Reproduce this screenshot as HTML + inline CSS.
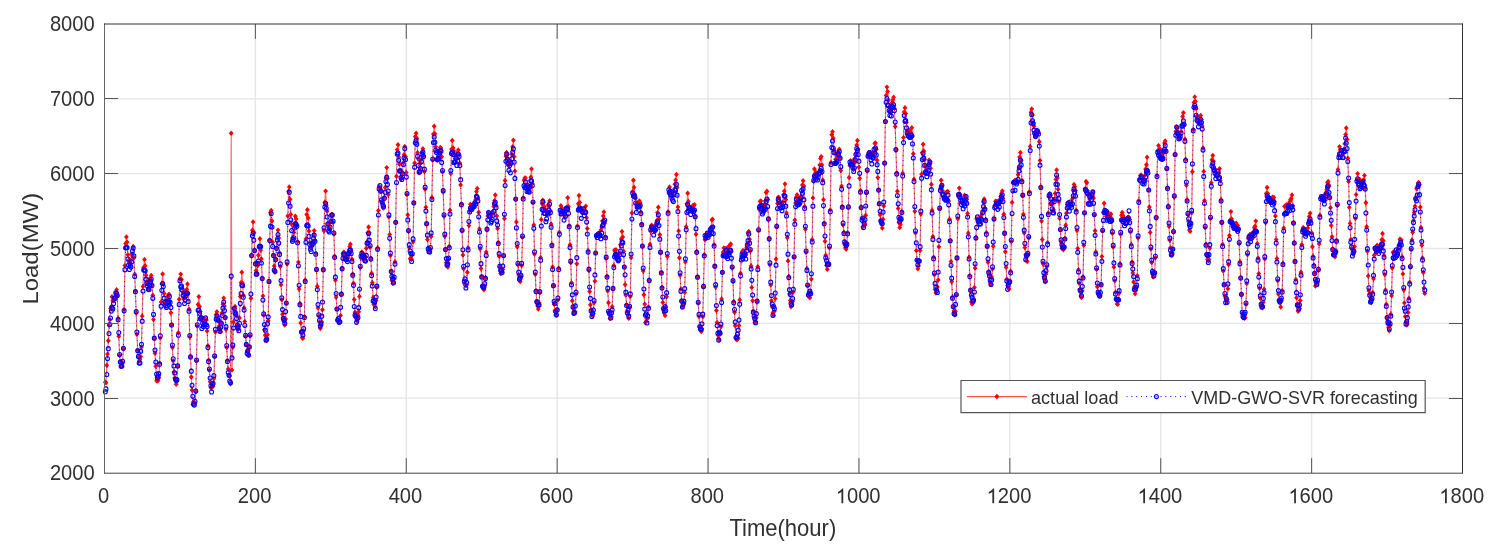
<!DOCTYPE html>
<html><head><meta charset="utf-8"><style>
html,body{margin:0;padding:0;background:#fff;overflow:hidden;}
svg{display:block;}
text{font-family:"Liberation Sans", sans-serif;fill:#303030;}
svg{will-change:transform;}
</style></head><body>
<svg width="1500" height="549" viewBox="0 0 1500 549">
<defs>
<marker id="md" markerUnits="userSpaceOnUse" markerWidth="6" markerHeight="6" refX="3" refY="3" overflow="visible"><path d="M3 0.3L5.4 3L3 5.7L0.6 3Z" fill="#f00"/></marker>
<marker id="mc" markerUnits="userSpaceOnUse" markerWidth="8" markerHeight="8" refX="4" refY="4" overflow="visible"><ellipse cx="4" cy="4" rx="1.95" ry="2.05" fill="none" stroke="#00f" stroke-width="1.1"/></marker>
<clipPath id="cp"><rect x="104.5" y="24.0" width="1358.0" height="449.0"/></clipPath>
</defs>
<rect width="1500" height="549" fill="#fff"/>
<path d="M255.39 24.0V473.0M406.28 24.0V473.0M557.17 24.0V473.0M708.06 24.0V473.0M858.94 24.0V473.0M1009.83 24.0V473.0M1160.72 24.0V473.0M1311.61 24.0V473.0M104.5 398.17H1462.5M104.5 323.33H1462.5M104.5 248.50H1462.5M104.5 173.67H1462.5M104.5 98.83H1462.5" stroke="#e6e6e6" stroke-width="1.4" fill="none"/>
<g>
<polyline points="105.3,382.2 106.0,382.8 106.8,365.2 107.5,354.1 108.3,340.8 109.0,325.4 109.8,319.8 110.5,308.4 111.3,306.6 112.0,296.8 112.8,300.6 113.6,300.7 114.3,298.5 115.1,297.2 115.8,294.0 116.6,289.7 117.3,296.1 118.1,318.4 118.8,336.2 119.6,355.4 120.3,362.0 121.1,363.1 121.9,366.0 122.6,362.9 123.4,348.5 124.1,309.5 124.9,265.4 125.6,243.6 126.4,236.9 127.1,242.1 127.9,254.8 128.6,260.4 129.4,262.7 130.2,263.3 130.9,260.5 131.7,254.1 132.4,255.8 133.2,246.5 133.9,257.8 134.7,274.2 135.4,291.1 136.2,313.0 136.9,334.3 137.7,350.4 138.4,357.3 139.2,361.0 140.0,359.4 140.7,356.7 141.5,347.0 142.2,316.1 143.0,286.4 143.7,267.5 144.5,259.5 145.2,265.8 146.0,275.2 146.7,282.0 147.5,284.0 148.3,289.3 149.0,281.3 149.8,278.6 150.5,279.8 151.3,275.4 152.0,284.4 152.8,295.2 153.5,319.5 154.3,338.4 155.0,353.2 155.8,366.2 156.6,380.7 157.3,380.9 158.1,380.4 158.8,378.1 159.6,363.0 160.3,338.1 161.1,302.1 161.8,283.9 162.6,274.0 163.3,283.9 164.1,293.5 164.9,303.0 165.6,301.2 166.4,303.2 167.1,300.6 167.9,296.2 168.6,294.4 169.4,294.8 170.1,301.1 170.9,312.8 171.6,324.7 172.4,347.6 173.2,361.0 173.9,372.0 174.7,378.0 175.4,380.1 176.2,384.3 176.9,381.1 177.7,366.4 178.4,332.8 179.2,299.3 179.9,278.7 180.7,274.1 181.5,279.4 182.2,288.3 183.0,292.1 183.7,298.9 184.5,297.4 185.2,295.8 186.0,291.6 186.7,289.5 187.5,284.0 188.2,293.8 189.0,309.2 189.8,336.9 190.5,356.8 191.3,377.0 192.0,390.1 192.8,404.5 193.5,401.7 194.3,403.0 195.0,403.4 195.8,391.7 196.5,361.1 197.3,326.2 198.1,304.5 198.8,296.8 199.6,306.6 200.3,311.6 201.1,317.8 201.8,318.2 202.6,320.5 203.3,318.4 204.1,321.7 204.8,318.9 205.6,319.6 206.4,320.0 207.1,331.0 207.9,345.7 208.6,360.1 209.4,370.3 210.1,381.8 210.9,387.8 211.6,387.4 212.4,384.4 213.1,386.4 213.9,378.6 214.6,356.9 215.4,332.1 216.2,314.5 216.9,311.8 217.7,316.6 218.4,320.8 219.2,326.1 219.9,329.3 220.7,331.9 221.4,323.3 222.2,312.8 222.9,304.4 223.7,298.1 224.5,306.1 225.2,317.3 226.0,329.4 226.7,347.5 227.5,360.4 228.2,369.0 229.0,375.6 229.7,376.0 230.5,383.9 231.2,133.3 232.0,370.1 232.8,347.2 233.5,322.0 234.3,308.1 235.0,306.4 235.8,312.2 236.5,315.8 237.3,325.7 238.0,329.6 238.8,326.8 239.5,318.0 240.3,296.6 241.1,282.6 241.8,272.2 242.6,283.2 243.3,295.3 244.1,307.7 244.8,321.4 245.6,336.5 246.3,344.4 247.1,351.0 247.8,350.2 248.6,355.2 249.4,346.9 250.1,336.0 250.9,298.3 251.6,255.6 252.4,230.3 253.1,221.9 253.9,232.4 254.6,250.3 255.4,263.3 256.1,270.6 256.9,273.3 257.7,265.6 258.4,255.2 259.2,247.5 259.9,238.7 260.7,250.1 261.4,258.9 262.2,278.2 262.9,295.9 263.7,315.1 264.4,329.6 265.2,335.3 266.0,340.1 266.7,340.3 267.5,334.7 268.2,320.8 269.0,281.9 269.7,240.2 270.5,212.5 271.2,210.5 272.0,221.0 272.7,242.3 273.5,255.0 274.2,265.9 275.0,272.3 275.8,259.6 276.5,247.6 277.3,238.0 278.0,230.1 278.8,238.1 279.5,252.8 280.3,266.6 281.0,284.7 281.8,299.8 282.5,314.3 283.3,318.1 284.1,320.7 284.8,325.1 285.6,318.9 286.3,303.2 287.1,264.1 287.8,215.9 288.6,191.2 289.3,186.9 290.1,199.2 290.8,214.5 291.6,224.1 292.4,238.0 293.1,238.0 293.9,232.5 294.6,226.7 295.4,216.2 296.1,218.8 296.9,224.5 297.6,241.4 298.4,262.1 299.1,289.1 299.9,303.8 300.7,322.9 301.4,332.1 302.2,337.6 302.9,338.4 303.7,331.0 304.4,316.7 305.2,280.3 305.9,238.9 306.7,214.6 307.4,209.8 308.2,218.0 309.0,231.0 309.7,242.4 310.5,247.6 311.2,247.1 312.0,245.4 312.7,241.4 313.5,234.8 314.2,230.6 315.0,240.8 315.7,253.1 316.5,270.1 317.3,286.3 318.0,307.9 318.8,316.1 319.5,321.9 320.3,328.6 321.0,325.2 321.8,321.9 322.5,309.8 323.3,269.8 324.0,230.7 324.8,202.3 325.6,191.1 326.3,205.2 327.1,211.3 327.8,223.6 328.6,227.3 329.3,229.3 330.1,229.7 330.8,220.9 331.6,214.4 332.3,214.7 333.1,222.5 333.9,234.1 334.6,256.2 335.4,280.3 336.1,297.3 336.9,309.0 337.6,320.3 338.4,321.2 339.1,321.1 339.9,321.1 340.6,315.4 341.4,294.3 342.1,268.4 342.9,253.5 343.7,252.3 344.4,252.8 345.2,256.2 345.9,256.3 346.7,258.7 347.4,258.2 348.2,257.2 348.9,253.8 349.7,246.6 350.4,244.3 351.2,250.9 352.0,259.3 352.7,274.2 353.5,283.3 354.2,299.6 355.0,312.3 355.7,315.5 356.5,318.6 357.2,321.3 358.0,315.3 358.7,311.7 359.5,296.4 360.3,267.6 361.0,258.1 361.8,252.0 362.5,256.7 363.3,258.6 364.0,254.4 364.8,259.9 365.5,256.7 366.3,248.2 367.0,241.9 367.8,232.8 368.6,227.0 369.3,232.7 370.1,247.3 370.8,258.3 371.6,273.3 372.3,282.8 373.1,297.6 373.8,304.6 374.6,303.9 375.3,306.7 376.1,300.5 376.9,287.2 377.6,248.0 378.4,210.5 379.1,186.4 379.9,187.5 380.6,189.1 381.4,191.6 382.1,202.9 382.9,207.6 383.6,208.1 384.4,197.4 385.2,187.4 385.9,178.1 386.7,167.6 387.4,178.6 388.2,194.6 388.9,217.1 389.7,234.5 390.4,255.6 391.2,271.0 391.9,280.5 392.7,283.4 393.5,282.4 394.2,279.1 395.0,261.7 395.7,222.2 396.5,176.3 397.2,149.8 398.0,144.8 398.7,157.0 399.5,164.0 400.2,171.8 401.0,178.8 401.8,177.9 402.5,172.9 403.3,162.7 404.0,154.8 404.8,146.5 405.5,156.4 406.3,172.6 407.0,194.6 407.8,214.9 408.5,231.0 409.3,247.6 410.1,258.7 410.8,258.2 411.6,259.3 412.3,255.1 413.1,241.7 413.8,203.2 414.6,162.9 415.3,136.6 416.1,133.2 416.8,138.3 417.6,152.7 418.3,158.9 419.1,172.9 419.9,168.0 420.6,163.0 421.4,159.1 422.1,151.9 422.9,148.8 423.6,156.0 424.4,171.6 425.1,189.2 425.9,207.3 426.6,224.1 427.4,239.6 428.2,247.7 428.9,250.6 429.7,250.1 430.4,249.1 431.2,236.4 431.9,197.5 432.7,160.0 433.4,134.1 434.2,126.3 434.9,133.7 435.7,146.7 436.5,150.7 437.2,160.6 438.0,156.6 438.7,158.2 439.5,154.2 440.2,147.5 441.0,148.1 441.7,156.8 442.5,171.9 443.2,191.7 444.0,216.3 444.8,236.3 445.5,249.8 446.3,262.5 447.0,265.7 447.8,267.0 448.5,259.1 449.3,246.3 450.0,210.2 450.8,173.5 451.5,149.2 452.3,140.5 453.1,147.9 453.8,151.1 454.6,154.3 455.3,159.0 456.1,158.0 456.8,157.3 457.6,152.6 458.3,149.9 459.1,154.5 459.8,163.1 460.6,184.9 461.4,204.1 462.1,230.7 462.9,255.0 463.6,268.7 464.4,283.6 465.1,285.1 465.9,285.7 466.6,285.1 467.4,272.3 468.1,247.7 468.9,225.6 469.7,210.7 470.4,204.2 471.2,205.7 471.9,208.4 472.7,207.2 473.4,207.2 474.2,206.9 474.9,202.4 475.7,199.5 476.4,191.6 477.2,188.5 477.9,198.5 478.7,212.2 479.5,228.9 480.2,248.9 481.0,268.5 481.7,277.0 482.5,286.0 483.2,286.0 484.0,289.8 484.7,285.9 485.5,277.8 486.2,252.1 487.0,229.4 487.8,215.9 488.5,212.2 489.3,214.3 490.0,214.1 490.8,215.3 491.5,215.4 492.3,211.8 493.0,212.5 493.8,206.4 494.5,200.6 495.3,195.0 496.1,205.4 496.8,216.1 497.6,228.5 498.3,242.4 499.1,256.2 499.8,266.9 500.6,273.6 501.3,273.3 502.1,272.3 502.8,269.5 503.6,256.1 504.4,218.6 505.1,180.5 505.9,156.4 506.6,152.5 507.4,154.2 508.1,158.9 508.9,165.2 509.6,163.5 510.4,162.2 511.1,161.7 511.9,154.5 512.7,146.8 513.4,140.2 514.2,156.6 514.9,171.1 515.7,198.9 516.4,222.0 517.2,246.7 517.9,264.8 518.7,274.9 519.4,277.0 520.2,281.6 521.0,276.6 521.7,265.6 522.5,237.2 523.2,197.8 524.0,180.2 524.7,178.1 525.5,178.0 526.2,185.2 527.0,186.7 527.7,185.5 528.5,186.7 529.3,189.7 530.0,187.5 530.8,177.2 531.5,168.9 532.3,183.4 533.0,202.6 533.8,225.0 534.5,254.1 535.3,274.4 536.0,290.7 536.8,301.7 537.6,306.0 538.3,309.1 539.1,302.8 539.8,292.7 540.6,257.4 541.3,219.6 542.1,203.7 542.8,200.3 543.6,202.3 544.3,206.7 545.1,209.2 545.9,211.6 546.6,215.1 547.4,212.6 548.1,205.1 548.9,206.3 549.6,200.8 550.4,210.9 551.1,224.1 551.9,244.6 552.6,267.0 553.4,286.1 554.1,304.3 554.9,310.8 555.7,314.9 556.4,315.4 557.2,309.3 557.9,300.1 558.7,268.2 559.4,232.3 560.2,211.2 560.9,205.7 561.7,210.2 562.4,208.8 563.2,212.7 564.0,215.2 564.7,217.1 565.5,211.9 566.2,207.8 567.0,207.2 567.7,197.7 568.5,206.8 569.2,225.7 570.0,244.8 570.7,262.5 571.5,282.8 572.3,300.8 573.0,307.7 573.8,311.2 574.5,312.3 575.3,312.0 576.0,294.1 576.8,263.7 577.5,225.9 578.3,203.7 579.0,195.5 579.8,202.4 580.6,208.5 581.3,208.8 582.1,209.1 582.8,212.5 583.6,208.7 584.3,209.8 585.1,210.4 585.8,206.1 586.6,217.7 587.3,228.5 588.1,250.7 588.9,270.2 589.6,291.5 590.4,304.7 591.1,309.6 591.9,314.6 592.6,315.9 593.4,313.5 594.1,302.7 594.9,281.1 595.6,253.1 596.4,235.8 597.2,234.2 597.9,234.2 598.7,233.3 599.4,233.7 600.2,234.1 600.9,229.9 601.7,227.1 602.4,220.9 603.2,215.9 603.9,211.9 604.7,223.2 605.5,236.8 606.2,258.5 607.0,276.1 607.7,290.9 608.5,302.7 609.2,312.0 610.0,318.6 610.7,317.1 611.5,316.9 612.2,306.7 613.0,288.9 613.8,265.6 614.5,250.3 615.3,251.4 616.0,249.7 616.8,255.1 617.5,257.5 618.3,255.4 619.0,254.0 619.8,253.1 620.5,244.4 621.3,238.9 622.0,231.5 622.8,237.0 623.6,251.3 624.3,266.9 625.1,284.6 625.8,295.0 626.6,304.8 627.3,311.6 628.1,314.7 628.8,318.4 629.6,307.5 630.3,296.6 631.1,257.6 631.9,213.0 632.6,191.5 633.4,180.3 634.1,187.4 634.9,194.7 635.6,198.3 636.4,203.6 637.1,208.3 637.9,204.5 638.6,202.1 639.4,201.0 640.2,203.1 640.9,212.0 641.7,224.0 642.4,246.3 643.2,271.1 643.9,294.8 644.7,304.1 645.4,322.5 646.2,321.5 646.9,318.1 647.7,318.4 648.5,307.1 649.2,280.8 650.0,244.3 650.7,231.3 651.5,225.3 652.2,226.1 653.0,229.3 653.7,226.6 654.5,231.6 655.2,229.8 656.0,225.1 656.8,220.8 657.5,212.6 658.3,207.2 659.0,218.9 659.8,234.7 660.5,252.8 661.3,272.5 662.0,287.3 662.8,302.4 663.5,309.1 664.3,313.2 665.1,315.6 665.8,307.3 666.6,296.8 667.3,256.6 668.1,211.8 668.8,192.9 669.6,186.9 670.3,191.3 671.1,191.7 671.8,196.0 672.6,195.4 673.4,195.5 674.1,191.3 674.9,184.2 675.6,180.1 676.4,174.5 677.1,187.5 677.9,207.1 678.6,230.9 679.4,257.7 680.1,275.4 680.9,288.9 681.6,301.0 682.4,306.8 683.2,303.9 683.9,303.6 684.7,292.4 685.4,261.9 686.2,226.8 686.9,203.7 687.7,193.3 688.4,201.4 689.2,206.8 689.9,207.8 690.7,208.2 691.5,211.1 692.2,207.2 693.0,205.4 693.7,205.5 694.5,204.7 695.2,216.7 696.0,234.2 696.7,251.5 697.5,277.0 698.2,303.2 699.0,316.5 699.8,326.8 700.5,329.7 701.3,331.6 702.0,329.0 702.8,316.8 703.5,287.1 704.3,254.8 705.0,239.8 705.8,238.6 706.5,234.7 707.3,236.6 708.1,233.4 708.8,232.7 709.6,233.2 710.3,231.9 711.1,227.5 711.8,219.9 712.6,219.2 713.3,226.7 714.1,244.6 714.8,266.3 715.6,287.0 716.4,310.5 717.1,322.4 717.9,335.0 718.6,338.3 719.4,340.0 720.1,333.7 720.9,326.8 721.6,298.9 722.4,272.5 723.1,252.3 723.9,247.9 724.7,251.1 725.4,248.7 726.2,251.0 726.9,248.2 727.7,251.9 728.4,253.7 729.2,246.0 729.9,245.4 730.7,244.0 731.4,251.8 732.2,267.7 733.0,281.6 733.7,301.5 734.5,312.2 735.2,325.8 736.0,337.4 736.7,339.9 737.5,339.1 738.2,338.2 739.0,325.5 739.7,299.9 740.5,273.3 741.3,257.1 742.0,252.3 742.8,250.8 743.5,250.9 744.3,253.9 745.0,252.5 745.8,254.8 746.5,247.9 747.3,243.7 748.0,232.7 748.8,231.4 749.6,239.2 750.3,251.0 751.1,266.0 751.8,287.4 752.6,300.7 753.3,311.1 754.1,317.9 754.8,322.7 755.6,321.8 756.3,317.7 757.1,301.3 757.8,266.7 758.6,230.4 759.4,209.5 760.1,201.4 760.9,201.0 761.6,205.3 762.4,206.5 763.1,210.7 763.9,212.0 764.6,204.5 765.4,200.7 766.1,192.6 766.9,191.3 767.7,199.6 768.4,219.4 769.2,238.4 769.9,264.8 770.7,285.1 771.4,300.7 772.2,306.8 772.9,312.8 773.7,315.4 774.4,311.3 775.2,298.6 776.0,259.1 776.7,227.0 777.5,203.6 778.2,197.2 779.0,197.6 779.7,202.3 780.5,202.8 781.2,204.4 782.0,203.7 782.7,202.3 783.5,194.8 784.3,191.1 785.0,183.9 785.8,199.5 786.5,213.1 787.3,237.8 788.0,260.9 788.8,276.5 789.5,293.8 790.3,300.5 791.0,306.8 791.8,302.9 792.6,301.6 793.3,291.9 794.1,257.1 794.8,220.1 795.6,203.1 796.3,197.2 797.1,194.8 797.8,197.9 798.6,200.3 799.3,201.9 800.1,199.2 800.9,199.4 801.6,196.8 802.4,185.0 803.1,180.7 803.9,186.1 804.6,206.5 805.4,229.2 806.1,252.2 806.9,268.4 807.6,285.8 808.4,294.3 809.2,296.9 809.9,297.7 810.7,292.7 811.4,279.1 812.2,239.6 812.9,197.9 813.7,181.1 814.4,169.0 815.2,174.0 815.9,172.5 816.7,176.8 817.5,175.2 818.2,174.9 819.0,171.5 819.7,164.9 820.5,158.4 821.2,156.6 822.0,165.0 822.7,180.0 823.5,199.7 824.2,223.1 825.0,241.3 825.7,255.2 826.5,265.5 827.3,269.2 828.0,264.9 828.8,263.3 829.5,247.9 830.3,209.9 831.0,162.5 831.8,134.8 832.5,131.8 833.3,138.2 834.0,150.3 834.8,153.0 835.6,159.4 836.3,163.0 837.1,156.4 837.8,154.2 838.6,150.7 839.3,149.3 840.1,157.8 840.8,170.5 841.6,186.1 842.3,206.8 843.1,225.1 843.9,232.3 844.6,244.3 845.4,247.9 846.1,249.2 846.9,243.1 847.6,232.8 848.4,207.8 849.1,177.5 849.9,165.6 850.6,160.6 851.4,162.0 852.2,162.8 852.9,163.6 853.7,169.5 854.4,159.3 855.2,162.3 855.9,153.5 856.7,145.1 857.4,140.5 858.2,149.1 858.9,167.3 859.7,178.3 860.5,190.8 861.2,207.5 862.0,218.3 862.7,227.0 863.5,222.8 864.2,225.0 865.0,224.7 865.7,215.2 866.5,193.2 867.2,171.0 868.0,155.8 868.8,152.4 869.5,152.6 870.3,152.5 871.0,156.0 871.8,157.7 872.5,155.8 873.3,155.2 874.0,152.8 874.8,143.4 875.5,142.9 876.3,149.2 877.1,160.2 877.8,177.6 878.6,189.9 879.3,203.5 880.1,214.8 880.8,220.0 881.6,224.6 882.3,228.1 883.1,219.2 883.8,206.0 884.6,163.3 885.4,121.1 886.1,95.4 886.9,87.1 887.6,91.6 888.4,100.2 889.1,107.1 889.9,110.6 890.6,112.0 891.4,108.5 892.1,102.6 892.9,99.7 893.6,97.2 894.4,108.4 895.2,126.5 895.9,149.7 896.7,172.9 897.4,191.3 898.2,208.4 898.9,222.6 899.7,227.6 900.4,224.5 901.2,220.6 901.9,211.6 902.7,173.2 903.5,137.6 904.2,112.1 905.0,107.7 905.7,113.4 906.5,122.4 907.2,130.5 908.0,132.9 908.7,134.1 909.5,130.4 910.2,132.6 911.0,132.4 911.8,127.8 912.5,136.1 913.3,153.7 914.0,179.2 914.8,211.3 915.5,233.0 916.3,250.6 917.0,260.4 917.8,268.7 918.5,266.0 919.3,260.9 920.1,250.5 920.8,214.1 921.6,174.2 922.3,152.6 923.1,144.3 923.8,150.9 924.6,159.8 925.3,165.2 926.1,170.1 926.8,167.3 927.6,168.3 928.4,165.5 929.1,160.1 929.9,161.5 930.6,168.2 931.4,184.5 932.1,210.2 932.9,236.4 933.6,257.2 934.4,274.7 935.1,289.5 935.9,293.1 936.7,289.5 937.4,287.0 938.2,279.9 938.9,246.7 939.7,209.1 940.4,189.1 941.2,180.3 941.9,186.1 942.7,191.0 943.4,197.5 944.2,196.5 945.0,194.1 945.7,198.1 946.5,192.5 947.2,191.6 948.0,191.6 948.7,201.1 949.5,219.2 950.2,240.6 951.0,261.6 951.7,281.7 952.5,297.1 953.2,307.2 954.0,311.1 954.8,314.8 955.5,311.3 956.3,295.3 957.0,258.1 957.8,218.7 958.5,196.7 959.3,188.1 960.0,194.8 960.8,197.2 961.5,202.6 962.3,203.0 963.1,202.0 963.8,200.4 964.6,195.2 965.3,197.2 966.1,198.1 966.8,199.6 967.6,213.4 968.3,233.2 969.1,257.2 969.8,275.4 970.6,290.5 971.4,301.9 972.1,303.9 972.9,303.0 973.6,301.6 974.4,287.5 975.1,268.1 975.9,237.6 976.6,218.7 977.4,219.0 978.1,220.4 978.9,221.4 979.7,220.8 980.4,217.1 981.2,218.6 981.9,214.5 982.7,210.9 983.4,201.8 984.2,198.9 984.9,208.2 985.7,219.5 986.4,232.6 987.2,246.5 988.0,262.2 988.7,271.5 989.5,274.9 990.2,282.7 991.0,284.3 991.7,276.9 992.5,269.1 993.2,246.2 994.0,219.2 994.7,205.4 995.5,201.2 996.3,202.9 997.0,201.1 997.8,205.0 998.5,204.5 999.3,202.5 1000.0,201.6 1000.8,196.5 1001.5,193.5 1002.3,191.0 1003.0,198.3 1003.8,214.3 1004.6,233.5 1005.3,251.8 1006.1,267.4 1006.8,279.3 1007.6,285.8 1008.3,287.3 1009.1,288.9 1009.8,282.3 1010.6,271.3 1011.3,241.6 1012.1,202.4 1012.9,183.1 1013.6,182.5 1014.4,181.3 1015.1,180.1 1015.9,182.0 1016.6,180.8 1017.4,181.1 1018.1,174.7 1018.9,168.1 1019.6,157.1 1020.4,152.5 1021.2,160.2 1021.9,180.5 1022.7,195.4 1023.4,214.2 1024.2,232.9 1024.9,247.6 1025.7,254.7 1026.4,260.5 1027.2,261.5 1027.9,254.7 1028.7,238.0 1029.4,191.7 1030.2,146.4 1031.0,112.3 1031.7,108.9 1032.5,115.1 1033.2,122.7 1034.0,126.3 1034.7,133.5 1035.5,136.8 1036.2,131.4 1037.0,131.4 1037.7,132.6 1038.5,132.2 1039.3,141.8 1040.0,160.4 1040.8,186.8 1041.5,221.0 1042.3,239.6 1043.0,263.8 1043.8,276.4 1044.5,279.2 1045.3,281.7 1046.0,274.0 1046.8,266.5 1047.6,242.4 1048.3,213.0 1049.1,196.5 1049.8,193.7 1050.6,195.3 1051.3,203.0 1052.1,203.9 1052.8,210.6 1053.6,209.9 1054.3,199.7 1055.1,193.4 1055.9,179.4 1056.6,170.0 1057.4,178.0 1058.1,189.3 1058.9,201.8 1059.6,218.2 1060.4,229.9 1061.1,241.7 1061.9,248.4 1062.6,244.8 1063.4,249.7 1064.2,247.4 1064.9,238.4 1065.7,225.3 1066.4,213.2 1067.2,204.7 1067.9,202.4 1068.7,204.5 1069.4,202.5 1070.2,204.1 1070.9,204.6 1071.7,202.9 1072.5,198.7 1073.2,190.5 1074.0,184.4 1074.7,186.5 1075.5,190.6 1076.2,210.2 1077.0,230.6 1077.7,248.5 1078.5,269.7 1079.2,283.3 1080.0,289.4 1080.8,296.1 1081.5,297.6 1082.3,290.9 1083.0,277.1 1083.8,245.4 1084.5,213.0 1085.3,188.6 1086.0,181.4 1086.8,182.8 1087.5,190.8 1088.3,194.5 1089.1,196.3 1089.8,199.3 1090.6,196.2 1091.3,193.9 1092.1,194.6 1092.8,191.9 1093.6,198.0 1094.3,215.1 1095.1,230.8 1095.8,252.0 1096.6,269.4 1097.3,286.7 1098.1,293.4 1098.9,294.2 1099.6,296.4 1100.4,296.0 1101.1,284.6 1101.9,256.6 1102.6,231.1 1103.4,212.5 1104.1,203.3 1104.9,211.0 1105.6,213.7 1106.4,216.2 1107.2,216.1 1107.9,212.1 1108.7,215.0 1109.4,216.6 1110.2,215.9 1110.9,214.0 1111.7,218.7 1112.4,233.4 1113.2,247.0 1113.9,267.1 1114.7,280.7 1115.5,292.2 1116.2,299.1 1117.0,303.9 1117.7,304.3 1118.5,299.5 1119.2,293.1 1120.0,263.9 1120.7,234.2 1121.5,215.2 1122.2,212.4 1123.0,215.4 1123.8,217.6 1124.5,220.4 1125.3,220.3 1126.0,219.1 1126.8,218.4 1127.5,219.5 1128.3,216.9 1129.0,219.7 1129.8,219.4 1130.5,232.0 1131.3,244.4 1132.1,262.0 1132.8,273.1 1133.6,282.0 1134.3,287.1 1135.1,293.8 1135.8,290.4 1136.6,287.6 1137.3,275.8 1138.1,238.1 1138.8,200.6 1139.6,178.7 1140.4,175.6 1141.1,175.0 1141.9,177.0 1142.6,179.1 1143.4,181.7 1144.1,180.5 1144.9,175.4 1145.6,169.0 1146.4,164.7 1147.1,157.2 1147.9,170.4 1148.7,189.8 1149.4,207.0 1150.2,232.4 1150.9,249.0 1151.7,262.5 1152.4,274.0 1153.2,277.1 1153.9,273.4 1154.7,272.3 1155.4,257.7 1156.2,217.2 1157.0,175.3 1157.7,150.7 1158.5,145.6 1159.2,152.9 1160.0,148.9 1160.7,156.7 1161.5,158.7 1162.2,155.6 1163.0,153.6 1163.7,151.8 1164.5,143.0 1165.2,141.0 1166.0,150.4 1166.8,168.8 1167.5,187.5 1168.3,207.1 1169.0,226.2 1169.8,240.3 1170.5,247.8 1171.3,253.0 1172.0,255.3 1172.8,249.5 1173.5,231.9 1174.3,196.8 1175.1,154.4 1175.8,131.5 1176.6,126.9 1177.3,128.4 1178.1,132.1 1178.8,135.2 1179.6,138.2 1180.3,138.0 1181.1,131.4 1181.8,124.6 1182.6,116.4 1183.4,112.8 1184.1,124.8 1184.9,139.1 1185.6,159.2 1186.4,185.2 1187.1,199.7 1187.9,214.6 1188.6,221.4 1189.4,230.0 1190.1,231.4 1190.9,222.4 1191.7,212.8 1192.4,171.8 1193.2,129.5 1193.9,102.4 1194.7,96.9 1195.4,101.5 1196.2,108.6 1196.9,116.2 1197.7,120.5 1198.4,122.5 1199.2,118.0 1200.0,118.0 1200.7,115.5 1201.5,119.6 1202.2,125.9 1203.0,147.9 1203.7,171.4 1204.5,200.6 1205.2,227.7 1206.0,244.3 1206.7,253.9 1207.5,259.6 1208.3,260.9 1209.0,259.6 1209.8,248.1 1210.5,218.5 1211.3,182.7 1212.0,159.8 1212.8,155.5 1213.5,161.2 1214.3,168.8 1215.0,169.3 1215.8,172.8 1216.6,176.2 1217.3,175.7 1218.1,172.7 1218.8,173.5 1219.6,168.6 1220.3,180.4 1221.1,199.7 1221.8,222.2 1222.6,244.3 1223.3,271.1 1224.1,284.9 1224.9,295.9 1225.6,298.0 1226.4,301.0 1227.1,299.4 1227.9,288.6 1228.6,264.5 1229.4,235.4 1230.1,220.2 1230.9,211.6 1231.6,219.0 1232.4,221.7 1233.1,225.7 1233.9,225.6 1234.7,225.9 1235.4,225.1 1236.2,223.1 1236.9,225.2 1237.7,225.6 1238.4,228.4 1239.2,243.7 1239.9,261.8 1240.7,277.5 1241.4,294.5 1242.2,313.4 1243.0,316.8 1243.7,317.6 1244.5,318.4 1245.2,317.6 1246.0,304.4 1246.7,283.6 1247.5,254.8 1248.2,238.5 1249.0,235.9 1249.7,234.6 1250.5,234.4 1251.3,236.6 1252.0,234.1 1252.8,237.7 1253.5,234.6 1254.3,227.8 1255.0,226.3 1255.8,221.1 1256.5,231.5 1257.3,243.6 1258.0,258.0 1258.8,273.6 1259.6,288.3 1260.3,298.2 1261.1,303.4 1261.8,304.9 1262.6,307.7 1263.3,302.2 1264.1,289.3 1264.8,259.1 1265.6,222.7 1266.3,193.5 1267.1,187.5 1267.9,193.6 1268.6,196.8 1269.4,200.6 1270.1,202.4 1270.9,199.3 1271.6,202.2 1272.4,197.1 1273.1,199.5 1273.9,197.4 1274.6,201.6 1275.4,216.0 1276.2,239.6 1276.9,258.6 1277.7,280.8 1278.4,294.1 1279.2,300.8 1279.9,302.3 1280.7,307.0 1281.4,300.9 1282.2,290.7 1282.9,263.2 1283.7,228.1 1284.5,206.4 1285.2,206.0 1286.0,205.1 1286.7,204.8 1287.5,208.1 1288.2,204.6 1289.0,203.9 1289.7,201.9 1290.5,199.8 1291.2,198.5 1292.0,194.9 1292.8,205.6 1293.5,222.8 1294.3,242.6 1295.0,261.4 1295.8,279.4 1296.5,297.8 1297.3,303.9 1298.0,311.2 1298.8,310.6 1299.5,308.5 1300.3,300.5 1301.0,272.2 1301.8,244.6 1302.6,229.9 1303.3,227.5 1304.1,229.4 1304.8,229.4 1305.6,231.9 1306.3,231.4 1307.1,233.8 1307.8,228.0 1308.6,223.1 1309.3,216.4 1310.1,213.3 1310.9,221.1 1311.6,232.8 1312.4,246.8 1313.1,256.4 1313.9,264.9 1314.6,273.0 1315.4,286.1 1316.1,284.7 1316.9,284.6 1317.6,282.4 1318.4,270.2 1319.2,243.7 1319.9,215.3 1320.7,197.8 1321.4,197.8 1322.2,197.2 1322.9,198.0 1323.7,195.6 1324.4,200.9 1325.2,197.9 1325.9,192.8 1326.7,189.7 1327.5,182.4 1328.2,181.4 1329.0,186.3 1329.7,196.9 1330.5,207.8 1331.2,225.4 1332.0,236.7 1332.7,249.0 1333.5,254.8 1334.2,254.3 1335.0,256.9 1335.8,251.0 1336.5,240.5 1337.3,205.5 1338.0,169.5 1338.8,155.5 1339.5,146.8 1340.3,149.8 1341.0,150.2 1341.8,151.8 1342.5,150.6 1343.3,153.5 1344.1,149.0 1344.8,143.7 1345.6,134.4 1346.3,128.0 1347.1,139.4 1347.8,158.3 1348.6,181.6 1349.3,207.4 1350.1,223.4 1350.8,239.4 1351.6,248.4 1352.4,250.1 1353.1,254.3 1353.9,251.3 1354.6,246.8 1355.4,218.6 1356.1,194.6 1356.9,180.1 1357.6,173.6 1358.4,179.6 1359.1,182.3 1359.9,179.7 1360.7,183.3 1361.4,183.0 1362.2,182.2 1362.9,180.7 1363.7,180.0 1364.4,175.4 1365.2,188.1 1365.9,202.8 1366.7,226.7 1367.4,251.3 1368.2,275.9 1368.9,290.9 1369.7,294.1 1370.5,298.0 1371.2,302.8 1372.0,299.8 1372.7,292.5 1373.5,278.7 1374.2,255.2 1375.0,250.0 1375.7,247.7 1376.5,252.2 1377.2,245.3 1378.0,249.0 1378.8,246.8 1379.5,251.5 1380.3,246.8 1381.0,244.1 1381.8,239.8 1382.5,233.5 1383.3,240.7 1384.0,255.4 1384.8,274.8 1385.5,290.0 1386.3,304.2 1387.1,317.3 1387.8,324.3 1388.6,327.2 1389.3,330.7 1390.1,325.4 1390.8,314.3 1391.6,295.8 1392.3,268.1 1393.1,252.2 1393.8,253.7 1394.6,251.5 1395.4,254.7 1396.1,252.9 1396.9,254.6 1397.6,253.2 1398.4,249.6 1399.1,245.0 1399.9,239.3 1400.6,239.6 1401.4,240.1 1402.1,256.8 1402.9,273.9 1403.7,290.1 1404.4,302.9 1405.2,316.6 1405.9,322.3 1406.7,325.0 1407.4,324.0 1408.2,312.4 1408.9,298.2 1409.7,282.3 1410.4,267.3 1411.2,249.7 1412.0,240.0 1412.7,232.2 1413.5,220.4 1414.2,212.8 1415.0,206.1 1415.7,198.6 1416.5,188.6 1417.2,187.6 1418.0,183.1 1418.7,182.5 1419.5,184.5 1420.3,207.1 1421.0,227.5 1421.8,245.3 1422.5,258.0 1423.3,272.6 1424.0,288.0 1424.8,293.4" fill="none" stroke="#ff6a6a" stroke-width="1.2" marker-start="url(#md)" marker-mid="url(#md)" marker-end="url(#md)"/>
<polyline points="105.3,391.7 106.0,388.9 106.8,374.5 107.5,358.5 108.3,348.7 109.0,333.6 109.8,324.5 110.5,318.0 111.3,311.0 112.0,307.6 112.8,308.9 113.6,303.4 114.3,298.2 115.1,298.4 115.8,292.8 116.6,293.3 117.3,295.5 118.1,319.7 118.8,332.6 119.6,354.6 120.3,362.0 121.1,366.3 121.9,366.0 122.6,361.3 123.4,348.3 124.1,310.8 124.9,269.7 125.6,247.8 126.4,247.4 127.1,247.6 127.9,259.1 128.6,265.2 129.4,269.5 130.2,265.4 130.9,267.1 131.7,261.8 132.4,251.0 133.2,248.1 133.9,255.9 134.7,276.5 135.4,291.7 136.2,311.7 136.9,332.1 137.7,350.7 138.4,356.4 139.2,363.0 140.0,363.0 140.7,351.2 141.5,344.3 142.2,321.2 143.0,291.0 143.7,269.9 144.5,270.1 145.2,270.8 146.0,279.2 146.7,283.4 147.5,286.0 148.3,289.3 149.0,289.6 149.8,285.1 150.5,281.5 151.3,279.3 152.0,285.5 152.8,298.3 153.5,314.4 154.3,338.2 155.0,350.1 155.8,362.0 156.6,374.1 157.3,377.7 158.1,376.2 158.8,373.7 159.6,364.2 160.3,335.8 161.1,306.2 161.8,290.3 162.6,283.5 163.3,286.5 164.1,298.2 164.9,302.1 165.6,305.6 166.4,307.4 167.1,305.9 167.9,301.7 168.6,302.4 169.4,296.6 170.1,302.5 170.9,307.4 171.6,325.0 172.4,345.1 173.2,358.8 173.9,365.9 174.7,372.9 175.4,379.0 176.2,380.6 176.9,379.7 177.7,365.9 178.4,335.2 179.2,304.4 179.9,280.8 180.7,286.8 181.5,286.1 182.2,290.1 183.0,295.3 183.7,295.8 184.5,303.5 185.2,300.1 186.0,295.5 186.7,293.1 187.5,293.3 188.2,301.4 189.0,311.2 189.8,335.6 190.5,356.9 191.3,371.2 192.0,385.3 192.8,396.3 193.5,403.9 194.3,405.1 195.0,401.3 195.8,391.1 196.5,360.1 197.3,324.8 198.1,310.3 198.8,310.0 199.6,313.2 200.3,318.8 201.1,317.7 201.8,328.5 202.6,323.2 203.3,326.5 204.1,324.4 204.8,324.3 205.6,317.9 206.4,324.8 207.1,326.6 207.9,347.5 208.6,361.4 209.4,369.0 210.1,378.1 210.9,385.6 211.6,391.9 212.4,384.3 213.1,383.4 213.9,375.7 214.6,355.9 215.4,329.3 216.2,319.2 216.9,315.8 217.7,319.3 218.4,320.2 219.2,328.7 219.9,331.3 220.7,327.3 221.4,323.4 222.2,315.4 222.9,308.2 223.7,302.0 224.5,310.6 225.2,317.5 226.0,326.7 226.7,345.6 227.5,361.4 228.2,372.5 229.0,375.3 229.7,381.0 230.5,382.6 231.2,276.2 232.0,357.9 232.8,345.1 233.5,328.1 234.3,308.5 235.0,312.4 235.8,314.0 236.5,318.4 237.3,325.1 238.0,327.7 238.8,330.7 239.5,323.3 240.3,303.4 241.1,293.6 241.8,285.0 242.6,285.7 243.3,297.2 244.1,310.1 244.8,325.3 245.6,335.4 246.3,344.4 247.1,353.5 247.8,351.1 248.6,355.1 249.4,346.9 250.1,334.8 250.9,294.1 251.6,255.6 252.4,235.8 253.1,233.3 253.9,240.2 254.6,250.5 255.4,263.8 256.1,274.2 256.9,273.9 257.7,263.7 258.4,261.1 259.2,246.6 259.9,246.0 260.7,246.6 261.4,263.0 262.2,278.5 262.9,300.1 263.7,313.9 264.4,324.6 265.2,330.2 266.0,340.2 266.7,339.2 267.5,323.7 268.2,316.9 269.0,281.4 269.7,240.6 270.5,226.2 271.2,213.5 272.0,227.1 272.7,246.4 273.5,255.6 274.2,270.1 275.0,271.3 275.8,259.5 276.5,248.3 277.3,240.0 278.0,234.5 278.8,243.1 279.5,254.4 280.3,263.9 281.0,280.6 281.8,297.8 282.5,309.6 283.3,318.4 284.1,320.5 284.8,323.3 285.6,311.6 286.3,303.0 287.1,261.9 287.8,222.4 288.6,203.1 289.3,192.2 290.1,206.2 290.8,219.8 291.6,230.5 292.4,241.3 293.1,239.7 293.9,237.8 294.6,228.0 295.4,223.7 296.1,224.7 296.9,226.3 297.6,242.8 298.4,265.8 299.1,285.3 299.9,304.7 300.7,316.4 301.4,332.1 302.2,331.6 302.9,335.0 303.7,328.6 304.4,317.6 305.2,281.4 305.9,242.3 306.7,225.6 307.4,224.9 308.2,226.1 309.0,236.4 309.7,244.4 310.5,249.2 311.2,251.6 312.0,244.9 312.7,243.2 313.5,238.6 314.2,235.0 315.0,241.3 315.7,254.2 316.5,269.4 317.3,289.6 318.0,304.6 318.8,314.8 319.5,320.3 320.3,326.1 321.0,323.9 321.8,316.2 322.5,302.0 323.3,269.7 324.0,227.8 324.8,207.0 325.6,203.3 326.3,208.3 327.1,216.9 327.8,224.0 328.6,230.8 329.3,232.0 330.1,227.2 330.8,221.5 331.6,215.1 332.3,215.1 333.1,221.1 333.9,233.1 334.6,257.3 335.4,277.2 336.1,293.6 336.9,309.0 337.6,320.1 338.4,318.7 339.1,322.3 339.9,321.8 340.6,307.3 341.4,294.2 342.1,268.7 342.9,258.3 343.7,254.4 344.4,254.3 345.2,259.1 345.9,258.7 346.7,259.7 347.4,261.6 348.2,253.8 348.9,252.6 349.7,250.4 350.4,249.9 351.2,253.6 352.0,261.5 352.7,275.2 353.5,285.3 354.2,306.6 355.0,315.1 355.7,316.3 356.5,322.3 357.2,318.7 358.0,317.6 358.7,307.7 359.5,289.1 360.3,266.3 361.0,256.1 361.8,253.4 362.5,255.6 363.3,255.1 364.0,257.2 364.8,260.4 365.5,261.1 366.3,255.4 367.0,243.3 367.8,242.9 368.6,233.5 369.3,240.2 370.1,245.5 370.8,258.9 371.6,275.6 372.3,286.0 373.1,301.0 373.8,300.6 374.6,302.3 375.3,308.5 376.1,297.1 376.9,286.2 377.6,249.3 378.4,215.0 379.1,188.9 379.9,185.6 380.6,191.1 381.4,199.8 382.1,201.9 382.9,205.0 383.6,206.5 384.4,198.2 385.2,192.2 385.9,181.6 386.7,177.2 387.4,184.4 388.2,191.1 388.9,214.9 389.7,238.3 390.4,253.0 391.2,271.5 391.9,276.4 392.7,278.7 393.5,282.8 394.2,277.1 395.0,264.1 395.7,222.3 396.5,182.6 397.2,153.9 398.0,153.0 398.7,160.3 399.5,171.1 400.2,170.7 401.0,177.7 401.8,179.4 402.5,173.6 403.3,164.5 404.0,157.8 404.8,148.5 405.5,159.4 406.3,176.9 407.0,193.5 407.8,219.9 408.5,230.6 409.3,244.7 410.1,250.9 410.8,253.5 411.6,261.5 412.3,253.6 413.1,238.9 413.8,202.8 414.6,167.2 415.3,142.8 416.1,140.5 416.8,144.2 417.6,156.3 418.3,165.5 419.1,171.9 419.9,171.8 420.6,168.6 421.4,161.7 422.1,154.4 422.9,152.2 423.6,156.4 424.4,169.2 425.1,187.2 425.9,211.1 426.6,223.7 427.4,235.2 428.2,248.9 428.9,251.5 429.7,252.1 430.4,247.6 431.2,232.9 431.9,199.4 432.7,159.1 433.4,142.5 434.2,136.9 434.9,142.3 435.7,150.4 436.5,152.5 437.2,159.5 438.0,158.7 438.7,158.6 439.5,153.1 440.2,150.5 441.0,151.2 441.7,162.4 442.5,170.6 443.2,190.7 444.0,214.8 444.8,234.2 445.5,249.5 446.3,258.5 447.0,264.9 447.8,263.7 448.5,258.2 449.3,247.8 450.0,214.1 450.8,170.5 451.5,153.4 452.3,152.2 453.1,154.6 453.8,162.5 454.6,162.4 455.3,161.5 456.1,158.1 456.8,165.4 457.6,161.1 458.3,154.0 459.1,156.6 459.8,165.4 460.6,179.7 461.4,204.7 462.1,230.3 462.9,249.8 463.6,266.3 464.4,281.1 465.1,278.9 465.9,288.0 466.6,282.4 467.4,264.8 468.1,250.0 468.9,221.6 469.7,212.0 470.4,208.1 471.2,209.4 471.9,209.2 472.7,207.1 473.4,204.9 474.2,206.6 474.9,202.6 475.7,204.1 476.4,196.3 477.2,197.2 477.9,201.0 478.7,216.8 479.5,232.0 480.2,246.3 481.0,263.7 481.7,276.9 482.5,286.1 483.2,287.6 484.0,287.1 484.7,283.5 485.5,278.4 486.2,255.4 487.0,229.2 487.8,219.8 488.5,212.6 489.3,215.5 490.0,216.6 490.8,222.9 491.5,221.4 492.3,219.6 493.0,215.2 493.8,211.6 494.5,203.7 495.3,202.3 496.1,207.7 496.8,220.9 497.6,225.0 498.3,243.5 499.1,253.7 499.8,266.2 500.6,270.3 501.3,270.8 502.1,272.6 502.8,266.0 503.6,255.5 504.4,214.3 505.1,185.6 505.9,161.3 506.6,154.0 507.4,159.3 508.1,163.4 508.9,170.3 509.6,165.6 510.4,172.8 511.1,163.3 511.9,158.7 512.7,152.2 513.4,148.7 514.2,162.1 514.9,178.4 515.7,199.1 516.4,227.9 517.2,243.6 517.9,263.3 518.7,272.2 519.4,279.3 520.2,277.9 521.0,275.4 521.7,263.3 522.5,236.0 523.2,198.9 524.0,185.7 524.7,187.5 525.5,181.9 526.2,187.2 527.0,191.6 527.7,185.5 528.5,191.6 529.3,192.1 530.0,186.5 530.8,180.8 531.5,180.8 532.3,185.5 533.0,202.0 533.8,228.3 534.5,251.8 535.3,272.0 536.0,291.4 536.8,301.7 537.6,302.5 538.3,304.8 539.1,305.1 539.8,291.7 540.6,260.2 541.3,226.0 542.1,209.4 542.8,201.6 543.6,209.5 544.3,213.2 545.1,213.5 545.9,221.7 546.6,218.8 547.4,212.6 548.1,214.0 548.9,210.0 549.6,204.1 550.4,212.5 551.1,227.2 551.9,245.4 552.6,269.5 553.4,285.7 554.1,301.3 554.9,303.5 555.7,311.6 556.4,314.8 557.2,309.9 557.9,298.0 558.7,269.6 559.4,234.3 560.2,210.2 560.9,214.0 561.7,213.5 562.4,211.7 563.2,212.6 564.0,220.1 564.7,214.0 565.5,216.3 566.2,208.4 567.0,208.5 567.7,209.2 568.5,213.3 569.2,226.7 570.0,247.5 570.7,261.2 571.5,284.8 572.3,294.8 573.0,306.9 573.8,313.3 574.5,312.7 575.3,305.9 576.0,292.3 576.8,257.7 577.5,227.6 578.3,209.9 579.0,209.0 579.8,207.9 580.6,209.7 581.3,218.3 582.1,211.6 582.8,212.2 583.6,208.8 584.3,215.6 585.1,212.6 585.8,212.3 586.6,222.1 587.3,234.0 588.1,252.1 588.9,269.2 589.6,287.0 590.4,298.4 591.1,310.9 591.9,316.5 592.6,313.2 593.4,310.1 594.1,300.5 594.9,274.9 595.6,253.0 596.4,235.6 597.2,237.4 597.9,234.8 598.7,233.8 599.4,236.0 600.2,235.4 600.9,238.7 601.7,233.2 602.4,226.0 603.2,224.5 603.9,221.6 604.7,220.0 605.5,237.7 606.2,257.2 607.0,277.1 607.7,288.2 608.5,311.3 609.2,313.3 610.0,314.1 610.7,318.0 611.5,312.9 612.2,309.8 613.0,288.4 613.8,267.6 614.5,256.8 615.3,254.6 616.0,255.8 616.8,254.5 617.5,259.2 618.3,260.8 619.0,259.5 619.8,254.8 620.5,251.0 621.3,245.8 622.0,241.8 622.8,242.7 623.6,254.5 624.3,267.1 625.1,274.8 625.8,292.2 626.6,305.6 627.3,312.8 628.1,310.3 628.8,316.2 629.6,306.3 630.3,293.9 631.1,254.0 631.9,219.1 632.6,193.0 633.4,195.9 634.1,195.2 634.9,197.1 635.6,203.0 636.4,212.4 637.1,206.7 637.9,206.4 638.6,206.4 639.4,206.9 640.2,205.4 640.9,213.6 641.7,224.7 642.4,246.1 643.2,268.1 643.9,289.0 644.7,309.1 645.4,315.1 646.2,313.9 646.9,322.9 647.7,315.9 648.5,308.2 649.2,280.4 650.0,247.4 650.7,229.5 651.5,227.0 652.2,228.3 653.0,228.0 653.7,235.0 654.5,229.7 655.2,230.3 656.0,228.5 656.8,223.6 657.5,221.5 658.3,214.8 659.0,225.5 659.8,239.2 660.5,252.2 661.3,272.9 662.0,288.1 662.8,297.0 663.5,308.6 664.3,310.9 665.1,306.7 665.8,310.5 666.6,292.7 667.3,253.6 668.1,213.2 668.8,189.8 669.6,192.9 670.3,191.2 671.1,195.0 671.8,198.0 672.6,200.1 673.4,201.6 674.1,194.5 674.9,189.5 675.6,190.3 676.4,184.4 677.1,195.2 677.9,211.5 678.6,236.1 679.4,251.3 680.1,272.8 680.9,291.2 681.6,301.1 682.4,307.0 683.2,303.9 683.9,301.2 684.7,288.6 685.4,258.8 686.2,229.8 686.9,212.4 687.7,204.7 688.4,210.9 689.2,207.9 689.9,208.0 690.7,214.4 691.5,209.9 692.2,211.0 693.0,209.3 693.7,211.6 694.5,210.0 695.2,216.7 696.0,228.7 696.7,252.3 697.5,277.2 698.2,302.3 699.0,314.4 699.8,326.6 700.5,328.9 701.3,329.3 702.0,323.8 702.8,314.2 703.5,286.4 704.3,255.8 705.0,235.6 705.8,238.1 706.5,236.1 707.3,233.2 708.1,237.3 708.8,235.0 709.6,234.6 710.3,229.7 711.1,228.5 711.8,232.3 712.6,227.1 713.3,233.5 714.1,246.1 714.8,266.2 715.6,284.7 716.4,305.5 717.1,325.6 717.9,333.2 718.6,340.1 719.4,332.1 720.1,333.2 720.9,324.1 721.6,302.4 722.4,272.3 723.1,255.7 723.9,255.1 724.7,255.3 725.4,256.2 726.2,250.2 726.9,256.5 727.7,258.5 728.4,255.0 729.2,252.9 729.9,250.7 730.7,250.4 731.4,258.2 732.2,267.0 733.0,280.7 733.7,302.8 734.5,309.6 735.2,322.0 736.0,337.5 736.7,336.8 737.5,334.3 738.2,330.2 739.0,320.1 739.7,304.2 740.5,275.8 741.3,259.9 742.0,254.7 742.8,258.7 743.5,255.2 744.3,255.4 745.0,254.8 745.8,259.0 746.5,251.0 747.3,245.1 748.0,240.7 748.8,234.0 749.6,243.2 750.3,249.5 751.1,268.9 751.8,280.3 752.6,295.0 753.3,312.2 754.1,316.1 754.8,318.8 755.6,322.7 756.3,313.7 757.1,301.2 757.8,269.6 758.6,229.8 759.4,207.3 760.1,206.2 760.9,208.9 761.6,205.4 762.4,213.9 763.1,212.1 763.9,209.9 764.6,207.5 765.4,209.2 766.1,201.4 766.9,199.0 767.7,206.5 768.4,218.9 769.2,238.8 769.9,262.8 770.7,282.2 771.4,295.5 772.2,304.1 772.9,315.3 773.7,306.5 774.4,308.7 775.2,293.1 776.0,265.2 776.7,226.3 777.5,208.5 778.2,199.4 779.0,201.2 779.7,205.4 780.5,207.8 781.2,207.8 782.0,210.7 782.7,207.1 783.5,203.3 784.3,195.8 785.0,196.1 785.8,206.2 786.5,216.0 787.3,234.3 788.0,254.2 788.8,277.6 789.5,289.7 790.3,294.4 791.0,303.6 791.8,304.8 792.6,298.5 793.3,289.4 794.1,256.8 794.8,224.2 795.6,206.6 796.3,199.3 797.1,202.8 797.8,205.0 798.6,204.0 799.3,204.1 800.1,202.6 800.9,197.5 801.6,190.5 802.4,193.3 803.1,188.9 803.9,199.7 804.6,208.4 805.4,226.3 806.1,251.1 806.9,270.4 807.6,285.1 808.4,295.0 809.2,293.2 809.9,291.2 810.7,293.7 811.4,273.8 812.2,241.9 812.9,206.2 813.7,180.4 814.4,176.0 815.2,177.2 815.9,179.2 816.7,174.9 817.5,179.9 818.2,177.2 819.0,173.7 819.7,172.6 820.5,170.6 821.2,168.3 822.0,171.6 822.7,182.7 823.5,205.6 824.2,223.8 825.0,236.1 825.7,257.8 826.5,260.6 827.3,264.1 828.0,264.1 828.8,264.4 829.5,246.0 830.3,211.7 831.0,164.5 831.8,147.5 832.5,141.0 833.3,148.3 834.0,152.6 834.8,163.3 835.6,163.3 836.3,162.7 837.1,161.7 837.8,154.1 838.6,153.9 839.3,151.5 840.1,158.2 840.8,166.7 841.6,189.2 842.3,207.2 843.1,223.1 843.9,233.5 844.6,241.9 845.4,243.5 846.1,245.7 846.9,244.3 847.6,233.8 848.4,206.9 849.1,185.9 849.9,162.1 850.6,164.2 851.4,164.7 852.2,164.7 852.9,167.5 853.7,171.4 854.4,167.8 855.2,159.7 855.9,154.5 856.7,148.6 857.4,150.6 858.2,154.6 858.9,161.2 859.7,173.3 860.5,192.0 861.2,207.6 862.0,220.1 862.7,218.1 863.5,227.6 864.2,223.6 865.0,219.6 865.7,206.0 866.5,192.2 867.2,170.1 868.0,156.2 868.8,154.0 869.5,152.6 870.3,155.3 871.0,159.9 871.8,163.9 872.5,157.8 873.3,157.9 874.0,149.4 874.8,153.2 875.5,148.1 876.3,155.1 877.1,164.7 877.8,171.4 878.6,190.1 879.3,203.7 880.1,211.3 880.8,221.0 881.6,222.2 882.3,223.6 883.1,212.0 883.8,202.0 884.6,163.0 885.4,121.5 886.1,102.3 886.9,98.5 887.6,105.3 888.4,105.0 889.1,110.5 889.9,115.4 890.6,111.5 891.4,116.0 892.1,106.3 892.9,107.0 893.6,104.8 894.4,110.4 895.2,122.1 895.9,149.6 896.7,173.9 897.4,195.5 898.2,203.8 898.9,217.4 899.7,221.5 900.4,218.7 901.2,218.8 901.9,212.6 902.7,175.9 903.5,142.6 904.2,115.6 905.0,121.3 905.7,120.5 906.5,127.9 907.2,133.0 908.0,135.4 908.7,136.3 909.5,137.0 910.2,137.4 911.0,135.0 911.8,135.7 912.5,143.9 913.3,158.0 914.0,181.6 914.8,206.5 915.5,230.8 916.3,242.8 917.0,260.0 917.8,264.8 918.5,261.1 919.3,261.0 920.1,246.7 920.8,211.2 921.6,178.2 922.3,159.5 923.1,153.3 923.8,158.2 924.6,165.3 925.3,172.0 926.1,173.2 926.8,176.7 927.6,172.8 928.4,170.6 929.1,164.6 929.9,162.4 930.6,174.1 931.4,189.7 932.1,213.1 932.9,239.4 933.6,258.7 934.4,273.0 935.1,283.4 935.9,287.1 936.7,290.5 937.4,292.5 938.2,272.1 938.9,240.3 939.7,208.2 940.4,190.4 941.2,187.0 941.9,185.3 942.7,194.4 943.4,194.5 944.2,198.6 945.0,199.1 945.7,200.2 946.5,199.2 947.2,199.9 948.0,195.1 948.7,204.8 949.5,221.7 950.2,240.8 951.0,265.3 951.7,278.2 952.5,298.2 953.2,306.6 954.0,313.5 954.8,314.3 955.5,304.4 956.3,294.5 957.0,257.9 957.8,216.0 958.5,194.7 959.3,194.7 960.0,197.1 960.8,200.5 961.5,204.6 962.3,200.7 963.1,208.7 963.8,204.0 964.6,205.9 965.3,201.9 966.1,196.7 966.8,203.3 967.6,217.0 968.3,236.8 969.1,259.0 969.8,276.6 970.6,290.2 971.4,295.0 972.1,297.4 972.9,301.0 973.6,300.1 974.4,292.0 975.1,263.8 975.9,238.0 976.6,227.4 977.4,216.9 978.1,220.7 978.9,221.9 979.7,223.8 980.4,224.1 981.2,219.1 981.9,220.1 982.7,212.4 983.4,206.5 984.2,201.4 984.9,209.3 985.7,220.4 986.4,234.3 987.2,246.2 988.0,258.8 988.7,272.4 989.5,275.9 990.2,280.1 991.0,284.5 991.7,279.9 992.5,266.8 993.2,242.0 994.0,218.9 994.7,207.6 995.5,206.4 996.3,203.4 997.0,204.2 997.8,209.3 998.5,203.8 999.3,207.0 1000.0,201.7 1000.8,199.5 1001.5,196.7 1002.3,194.8 1003.0,201.6 1003.8,217.5 1004.6,233.2 1005.3,246.5 1006.1,263.6 1006.8,280.9 1007.6,289.3 1008.3,284.9 1009.1,282.5 1009.8,281.7 1010.6,272.8 1011.3,240.0 1012.1,213.5 1012.9,190.8 1013.6,182.3 1014.4,182.7 1015.1,190.3 1015.9,182.2 1016.6,183.9 1017.4,182.0 1018.1,179.4 1018.9,171.1 1019.6,166.8 1020.4,160.2 1021.2,164.9 1021.9,181.7 1022.7,195.2 1023.4,217.3 1024.2,230.2 1024.9,243.4 1025.7,259.6 1026.4,255.6 1027.2,255.1 1027.9,253.3 1028.7,236.6 1029.4,193.4 1030.2,150.5 1031.0,122.8 1031.7,114.6 1032.5,120.8 1033.2,123.5 1034.0,130.2 1034.7,133.3 1035.5,136.5 1036.2,134.4 1037.0,130.6 1037.7,131.4 1038.5,134.0 1039.3,146.0 1040.0,165.2 1040.8,187.5 1041.5,216.4 1042.3,247.1 1043.0,261.3 1043.8,272.7 1044.5,277.5 1045.3,281.1 1046.0,270.7 1046.8,264.8 1047.6,244.4 1048.3,214.5 1049.1,195.8 1049.8,194.3 1050.6,198.5 1051.3,203.6 1052.1,208.8 1052.8,212.4 1053.6,213.0 1054.3,201.5 1055.1,199.0 1055.9,184.2 1056.6,175.0 1057.4,184.5 1058.1,194.4 1058.9,198.8 1059.6,214.5 1060.4,229.6 1061.1,239.9 1061.9,244.7 1062.6,247.2 1063.4,247.6 1064.2,247.1 1064.9,239.0 1065.7,228.5 1066.4,217.0 1067.2,208.0 1067.9,203.5 1068.7,206.6 1069.4,211.1 1070.2,202.1 1070.9,205.2 1071.7,207.3 1072.5,203.8 1073.2,195.9 1074.0,188.9 1074.7,191.9 1075.5,196.1 1076.2,211.9 1077.0,227.6 1077.7,252.3 1078.5,272.0 1079.2,281.2 1080.0,290.0 1080.8,291.3 1081.5,295.8 1082.3,286.4 1083.0,277.9 1083.8,242.3 1084.5,212.8 1085.3,189.6 1086.0,190.5 1086.8,192.2 1087.5,193.5 1088.3,203.7 1089.1,204.2 1089.8,197.1 1090.6,204.0 1091.3,199.4 1092.1,195.0 1092.8,191.9 1093.6,203.3 1094.3,214.6 1095.1,235.3 1095.8,254.0 1096.6,267.9 1097.3,283.1 1098.1,292.2 1098.9,294.2 1099.6,296.0 1100.4,292.6 1101.1,284.7 1101.9,261.3 1102.6,230.3 1103.4,220.4 1104.1,212.5 1104.9,210.3 1105.6,212.6 1106.4,211.4 1107.2,220.2 1107.9,217.1 1108.7,219.6 1109.4,219.2 1110.2,221.4 1110.9,220.0 1111.7,220.4 1112.4,231.7 1113.2,245.4 1113.9,262.9 1114.7,278.5 1115.5,293.9 1116.2,299.1 1117.0,299.7 1117.7,299.3 1118.5,299.9 1119.2,290.7 1120.0,264.9 1120.7,232.4 1121.5,220.0 1122.2,219.5 1123.0,221.4 1123.8,219.4 1124.5,225.7 1125.3,222.8 1126.0,223.6 1126.8,222.7 1127.5,219.5 1128.3,217.8 1129.0,210.8 1129.8,222.6 1130.5,230.2 1131.3,246.6 1132.1,263.4 1132.8,268.9 1133.6,276.5 1134.3,289.6 1135.1,289.6 1135.8,287.3 1136.6,285.2 1137.3,278.7 1138.1,235.9 1138.8,202.3 1139.6,180.0 1140.4,180.5 1141.1,176.8 1141.9,177.8 1142.6,183.6 1143.4,181.6 1144.1,184.0 1144.9,180.5 1145.6,177.1 1146.4,171.9 1147.1,170.7 1147.9,173.0 1148.7,190.0 1149.4,210.8 1150.2,226.4 1150.9,247.0 1151.7,260.1 1152.4,271.4 1153.2,272.9 1153.9,275.9 1154.7,272.8 1155.4,256.1 1156.2,217.6 1157.0,176.6 1157.7,152.4 1158.5,154.9 1159.2,151.7 1160.0,157.1 1160.7,158.6 1161.5,158.6 1162.2,159.3 1163.0,158.4 1163.7,151.0 1164.5,149.4 1165.2,145.4 1166.0,151.3 1166.8,168.4 1167.5,188.4 1168.3,206.7 1169.0,223.0 1169.8,238.1 1170.5,250.2 1171.3,254.8 1172.0,253.9 1172.8,249.0 1173.5,231.6 1174.3,195.9 1175.1,154.5 1175.8,135.2 1176.6,127.1 1177.3,132.8 1178.1,134.0 1178.8,138.8 1179.6,138.3 1180.3,136.3 1181.1,133.1 1181.8,126.2 1182.6,125.7 1183.4,120.8 1184.1,124.4 1184.9,141.3 1185.6,160.5 1186.4,182.1 1187.1,201.0 1187.9,213.4 1188.6,218.8 1189.4,224.4 1190.1,226.7 1190.9,223.5 1191.7,210.4 1192.4,163.9 1193.2,130.7 1193.9,107.3 1194.7,105.3 1195.4,107.7 1196.2,115.3 1196.9,120.1 1197.7,120.9 1198.4,126.8 1199.2,122.8 1200.0,122.8 1200.7,119.6 1201.5,122.5 1202.2,129.0 1203.0,150.1 1203.7,176.4 1204.5,203.3 1205.2,226.3 1206.0,245.2 1206.7,254.5 1207.5,255.5 1208.3,262.4 1209.0,254.7 1209.8,244.7 1210.5,217.3 1211.3,186.2 1212.0,165.9 1212.8,163.2 1213.5,167.5 1214.3,170.3 1215.0,173.2 1215.8,178.6 1216.6,175.6 1217.3,175.0 1218.1,171.4 1218.8,178.6 1219.6,177.6 1220.3,183.5 1221.1,201.0 1221.8,222.3 1222.6,246.5 1223.3,268.7 1224.1,284.7 1224.9,293.6 1225.6,302.6 1226.4,298.6 1227.1,302.3 1227.9,283.9 1228.6,261.7 1229.4,239.3 1230.1,221.5 1230.9,222.1 1231.6,222.1 1232.4,223.2 1233.1,226.1 1233.9,228.2 1234.7,226.9 1235.4,228.5 1236.2,228.4 1236.9,229.4 1237.7,231.3 1238.4,229.0 1239.2,242.6 1239.9,263.8 1240.7,278.1 1241.4,294.3 1242.2,312.3 1243.0,316.4 1243.7,317.5 1244.5,314.1 1245.2,312.3 1246.0,303.0 1246.7,280.8 1247.5,252.8 1248.2,243.7 1249.0,236.9 1249.7,236.7 1250.5,241.7 1251.3,238.3 1252.0,235.3 1252.8,234.0 1253.5,233.2 1254.3,235.3 1255.0,231.2 1255.8,231.0 1256.5,231.7 1257.3,246.3 1258.0,260.2 1258.8,277.1 1259.6,286.0 1260.3,295.7 1261.1,304.4 1261.8,307.1 1262.6,306.5 1263.3,298.4 1264.1,292.7 1264.8,256.7 1265.6,221.1 1266.3,201.5 1267.1,195.9 1267.9,197.7 1268.6,200.3 1269.4,198.7 1270.1,200.3 1270.9,202.4 1271.6,202.1 1272.4,204.9 1273.1,201.2 1273.9,203.2 1274.6,210.7 1275.4,221.7 1276.2,243.1 1276.9,262.0 1277.7,278.8 1278.4,290.5 1279.2,300.4 1279.9,301.9 1280.7,300.1 1281.4,298.1 1282.2,292.1 1282.9,264.5 1283.7,231.1 1284.5,214.1 1285.2,213.7 1286.0,213.2 1286.7,213.5 1287.5,211.2 1288.2,206.5 1289.0,205.7 1289.7,210.6 1290.5,206.9 1291.2,206.9 1292.0,206.7 1292.8,209.8 1293.5,223.0 1294.3,243.0 1295.0,261.4 1295.8,282.0 1296.5,292.7 1297.3,305.1 1298.0,305.2 1298.8,308.8 1299.5,304.8 1300.3,294.8 1301.0,275.2 1301.8,247.4 1302.6,231.7 1303.3,229.8 1304.1,229.5 1304.8,233.5 1305.6,236.2 1306.3,234.1 1307.1,232.8 1307.8,232.5 1308.6,223.6 1309.3,221.1 1310.1,219.1 1310.9,223.1 1311.6,234.9 1312.4,238.4 1313.1,257.9 1313.9,266.0 1314.6,273.4 1315.4,279.3 1316.1,281.6 1316.9,284.5 1317.6,280.0 1318.4,269.4 1319.2,240.3 1319.9,217.2 1320.7,198.7 1321.4,196.5 1322.2,197.8 1322.9,200.0 1323.7,199.8 1324.4,204.0 1325.2,199.1 1325.9,195.6 1326.7,193.3 1327.5,186.9 1328.2,185.6 1329.0,192.5 1329.7,197.6 1330.5,213.0 1331.2,220.3 1332.0,240.6 1332.7,249.5 1333.5,254.7 1334.2,254.8 1335.0,253.2 1335.8,251.6 1336.5,241.2 1337.3,204.3 1338.0,172.9 1338.8,157.6 1339.5,153.8 1340.3,157.3 1341.0,153.9 1341.8,150.3 1342.5,157.5 1343.3,157.6 1344.1,150.4 1344.8,151.6 1345.6,138.1 1346.3,143.1 1347.1,148.5 1347.8,161.6 1348.6,178.0 1349.3,202.6 1350.1,227.6 1350.8,242.2 1351.6,246.9 1352.4,256.0 1353.1,252.9 1353.9,251.2 1354.6,239.3 1355.4,216.2 1356.1,201.1 1356.9,181.3 1357.6,178.8 1358.4,183.6 1359.1,185.3 1359.9,188.7 1360.7,188.1 1361.4,186.5 1362.2,183.4 1362.9,181.8 1363.7,184.7 1364.4,185.7 1365.2,189.0 1365.9,213.0 1366.7,230.1 1367.4,248.7 1368.2,265.0 1368.9,287.8 1369.7,295.2 1370.5,301.9 1371.2,300.6 1372.0,298.5 1372.7,294.3 1373.5,275.4 1374.2,259.0 1375.0,248.0 1375.7,248.3 1376.5,251.5 1377.2,249.4 1378.0,248.8 1378.8,253.5 1379.5,248.3 1380.3,248.5 1381.0,247.7 1381.8,244.2 1382.5,244.3 1383.3,250.9 1384.0,257.3 1384.8,272.0 1385.5,292.3 1386.3,306.3 1387.1,317.6 1387.8,322.2 1388.6,323.1 1389.3,329.0 1390.1,323.7 1390.8,316.1 1391.6,292.1 1392.3,265.5 1393.1,257.8 1393.8,258.3 1394.6,253.9 1395.4,257.5 1396.1,249.9 1396.9,255.7 1397.6,254.3 1398.4,250.4 1399.1,246.7 1399.9,244.7 1400.6,242.2 1401.4,245.1 1402.1,258.5 1402.9,267.4 1403.7,287.5 1404.4,308.1 1405.2,311.2 1405.9,324.1 1406.7,321.6 1407.4,317.7 1408.2,306.9 1408.9,300.5 1409.7,284.1 1410.4,266.5 1411.2,248.5 1412.0,242.6 1412.7,229.0 1413.5,222.5 1414.2,216.0 1415.0,209.7 1415.7,198.7 1416.5,200.8 1417.2,195.2 1418.0,186.6 1418.7,184.6 1419.5,194.7 1420.3,212.0 1421.0,230.0 1421.8,241.6 1422.5,260.1 1423.3,269.8 1424.0,282.1 1424.8,290.2" fill="none" stroke="#00f" stroke-width="0.8" stroke-dasharray="1 3.86" marker-start="url(#mc)" marker-mid="url(#mc)" marker-end="url(#mc)"/>
</g>
<path d="M255.39 473.0v-14.82M255.39 24.0v14.82M406.28 473.0v-14.82M406.28 24.0v14.82M557.17 473.0v-14.82M557.17 24.0v14.82M708.06 473.0v-14.82M708.06 24.0v14.82M858.94 473.0v-14.82M858.94 24.0v14.82M1009.83 473.0v-14.82M1009.83 24.0v14.82M1160.72 473.0v-14.82M1160.72 24.0v14.82M1311.61 473.0v-14.82M1311.61 24.0v14.82M104.5 398.50h13.6M1462.5 398.50h-13.6M104.5 323.50h13.6M1462.5 323.50h-13.6M104.5 248.50h13.6M1462.5 248.50h-13.6M104.5 173.50h13.6M1462.5 173.50h-13.6M104.5 98.50h13.6M1462.5 98.50h-13.6" stroke="#555" stroke-width="1" fill="none"/>
<path d="M104.5 23.5V473.5" stroke="#666" stroke-width="1"/>
<path d="M1462.5 23.5V473.5" stroke="#333" stroke-width="1"/>
<path d="M104 24H1463" stroke="#333" stroke-width="1"/>
<path d="M104 473.2H1463" stroke="#444" stroke-width="1"/>
<g font-size="21.45"><text transform="translate(98.09 503.15) scale(0.94 1)">0</text><text transform="translate(237.77 503.15) scale(0.94 1)">200</text><text transform="translate(388.66 503.15) scale(0.94 1)">400</text><text transform="translate(539.55 503.15) scale(0.94 1)">600</text><text transform="translate(690.44 503.15) scale(0.94 1)">800</text><path d="M763 0H583V1100Q518 1040 412 980Q307 920 223 890V1057Q374 1125 487 1222Q600 1318 647 1409H763Z" fill="#303030" transform="translate(835.72 503.15) scale(0.00985 -0.01047)"/><text transform="translate(846.93 503.15) scale(0.94 1)">000</text><path d="M763 0H583V1100Q518 1040 412 980Q307 920 223 890V1057Q374 1125 487 1222Q600 1318 647 1409H763Z" fill="#303030" transform="translate(986.61 503.15) scale(0.00985 -0.01047)"/><text transform="translate(997.82 503.15) scale(0.94 1)">200</text><path d="M763 0H583V1100Q518 1040 412 980Q307 920 223 890V1057Q374 1125 487 1222Q600 1318 647 1409H763Z" fill="#303030" transform="translate(1137.50 503.15) scale(0.00985 -0.01047)"/><text transform="translate(1148.71 503.15) scale(0.94 1)">400</text><path d="M763 0H583V1100Q518 1040 412 980Q307 920 223 890V1057Q374 1125 487 1222Q600 1318 647 1409H763Z" fill="#303030" transform="translate(1288.39 503.15) scale(0.00985 -0.01047)"/><text transform="translate(1299.60 503.15) scale(0.94 1)">600</text><path d="M763 0H583V1100Q518 1040 412 980Q307 920 223 890V1057Q374 1125 487 1222Q600 1318 647 1409H763Z" fill="#303030" transform="translate(1439.28 503.15) scale(0.00985 -0.01047)"/><text transform="translate(1450.49 503.15) scale(0.94 1)">800</text><text transform="translate(94.7 480.40) scale(0.94 1)" text-anchor="end">2000</text><text transform="translate(94.7 405.57) scale(0.94 1)" text-anchor="end">3000</text><text transform="translate(94.7 330.73) scale(0.94 1)" text-anchor="end">4000</text><text transform="translate(94.7 255.90) scale(0.94 1)" text-anchor="end">5000</text><text transform="translate(94.7 181.07) scale(0.94 1)" text-anchor="end">6000</text><text transform="translate(94.7 106.23) scale(0.94 1)" text-anchor="end">7000</text><text transform="translate(94.7 31.40) scale(0.94 1)" text-anchor="end">8000</text></g>
<text transform="translate(729.4 535.6) scale(0.95 1)" font-size="23.2">Time(hour)</text>
<text transform="translate(37.9 304.6) rotate(-90) scale(1.104 1)" font-size="21.7">Load(MW)</text>
<path d="M961 380.5H1425.2V412.6H961Z" fill="#fff" stroke="#555" stroke-width="1.2"/>
<path d="M967 396.6H1027" stroke="#ff5050" stroke-width="1.2"/>
<path d="M996.9 393.8L999.4 396.6L996.9 399.4L994.4 396.6Z" fill="#f00"/>
<path d="M1126.5 396.6H1186" stroke="#00f" stroke-width="1" stroke-dasharray="1 3.86"/>
<ellipse cx="1156.4" cy="396.6" rx="1.95" ry="2.05" fill="none" stroke="#00f" stroke-width="1.1"/>
<text transform="translate(1031 404) scale(0.973 1)" font-size="18.6">actual load</text>
<text transform="translate(1191.3 403.8) scale(0.966 1)" font-size="18.6">VMD-GWO-SVR forecasting</text>
</svg>
</body></html>
